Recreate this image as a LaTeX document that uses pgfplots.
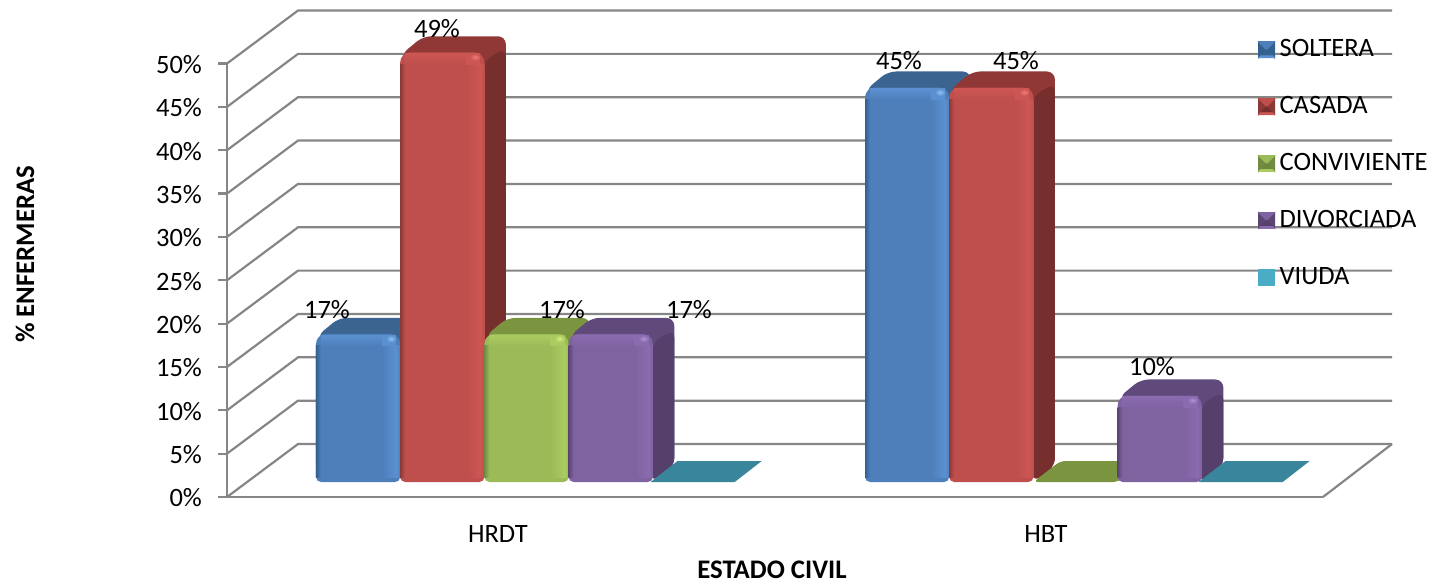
\documentclass[border=0pt]{standalone}
\usepackage{fontspec}
\setmainfont{Carlito}
\usepackage{pgfplots}
\pgfplotsset{compat=1.18}

% Front, bevel, top and side tones of each series
\definecolor{blueFront}{HTML}{4E7FBB}
\definecolor{blueLight}{HTML}{5A90D0}
\definecolor{blueHigh}{HTML}{8FC4F4}
\definecolor{blueDark}{HTML}{34608F}
\definecolor{blueTop}{HTML}{3C6491}
\definecolor{blueSide}{HTML}{396190}
\definecolor{redFront}{HTML}{BE4F4C}
\definecolor{redLight}{HTML}{CC5653}
\definecolor{redHigh}{HTML}{F07C76}
\definecolor{redDark}{HTML}{8C3A38}
\definecolor{redTop}{HTML}{8F3836}
\definecolor{redSide}{HTML}{772F2E}
\definecolor{greenFront}{HTML}{9BBB59}
\definecolor{greenLight}{HTML}{A9CB60}
\definecolor{greenHigh}{HTML}{D2F080}
\definecolor{greenDark}{HTML}{728B42}
\definecolor{greenTop}{HTML}{7A943F}
\definecolor{greenSide}{HTML}{6F8739}
\definecolor{purpleFront}{HTML}{7F63A1}
\definecolor{purpleLight}{HTML}{8A6BAF}
\definecolor{purpleHigh}{HTML}{B094D4}
\definecolor{purpleDark}{HTML}{5B4673}
\definecolor{purpleTop}{HTML}{604A7B}
\definecolor{purpleSide}{HTML}{54406B}
\definecolor{tealTop}{HTML}{39859C}
\definecolor{tealLegend}{HTML}{4BACC6}
\definecolor{wallGrid}{HTML}{868686}

\newcommand{\labelfont}{\fontsize{13.25}{15.9}\selectfont}
\newcommand{\titlefont}{\fontsize{13.4}{16}\selectfont\bfseries}

% One polygon in axis coordinates, its macros expanded before pgfplots stores it
\newcommand{\face}[2]{%
  \edef\facepoints{#2}%
  \begingroup\edef\x{\endgroup\noexpand\addplot[forget plot,draw=none,#1] coordinates {\facepoints} -- cycle;}\x}

% A column: left x in px, value in percent, colour prefix
\newcommand{\threedbar}[3]{%
  \pgfmathsetmacro\xL{#1}%
  \pgfmathsetmacro\xLi{#1+1}%
  \pgfmathsetmacro\xR{#1+84.2}%
  \pgfmathsetmacro\xRb{#1+84.2+21.5}%
  \pgfmathsetmacro\xLb{#1+23}%
  \pgfmathsetmacro\yT{1.557+1.015*#2}%
  \pgfmathsetmacro\yTb{\yT+1.85}%
  \pgfmathsetmacro\yTs{\yT+0.45}%
  \pgfmathsetmacro\yTr{\yT-0.9}%
  \pgfmathsetmacro\yTo{\yT-0.25}%
  \pgfmathsetmacro\yB{1.73}%
  \pgfmathsetmacro\yBb{\yB+1.85}%
  \pgfmathsetmacro\yBi{\yB+0.55}%
  \pgfmathsetmacro\yM{\yB+1}%
  \pgfmathsetmacro\yS{\yT-1.35}%
  \pgfmathsetmacro\ySp{\yT-0.95}%
  \pgfmathsetmacro\yTi{\yT-0.15}%
  \pgfmathsetmacro\xa{#1+5}%
  \pgfmathsetmacro\xb{#1+66}%
  \pgfmathsetmacro\xc{#1+80}%
  \pgfmathsetmacro\xe{#1+70}%
  \face{fill=#3Top,rounded corners=4pt}{(\xLi,\yTo) (\xLb,\yTb) (\xRb,\yTb) (\xRb,\yBb) (\xR,\yB)}%
  \face{fill=#3Side,rounded corners=4pt}{(\xR,\yB) (\xRb,\yBb) (\xRb,\yTs) (\xR,\yTr)}%
  \face{fill=#3Front,rounded corners=5pt}{(\xL,\yM) (\xR,\yM) (\xR,\yT) (\xL,\yT)}%
  \face{fill=#3Front,rounded corners=2.5pt}{(\xL,\yB) (\xR,\yB) (\xR,\yS) (\xL,\yS)}%
  \face{left color=#3Dark,right color=#3Front,shading=axis}{(\xL,\yS) (\xa,\yS) (\xa,\yBi) (\xL,\yBi)}%
  \face{left color=#3Front,right color=#3Light,shading=axis}{(\xb,\yS) (\xc,\yS) (\xc,\yBi) (\xb,\yBi)}%
  \face{left color=#3Light,right color=#3Front,shading=axis}{(\xc,\yS) (\xR,\yS) (\xR,\yBi) (\xc,\yBi)}%
  \face{top color=#3Light,bottom color=#3Front,shading=axis}{(\xa,\yTi) (\xb,\yTi) (\xb,\yS) (\xa,\yS)}%
  \face{left color=#3Light,right color=#3Light,shading=axis}{(\xb,\yTi) (\xc,\yTi) (\xc,\yS) (\xb,\yS)}%
  \face{inner color=#3High,outer color=#3Light,shading=radial}{(\xe,\yTi) (\xc,\yTi) (\xc,\ySp) (\xe,\ySp)}%
}

% A column of zero height shows only its floor
\newcommand{\flatbar}[3]{%
  \pgfmathsetmacro\xL{#1}%
  \pgfmathsetmacro\xR{#1+84.2}%
  \pgfmathsetmacro\xRb{#1+84.2+27}%
  \pgfmathsetmacro\xLb{#1+27}%
  \face{fill=#2,rounded corners=#3}{(\xL,1.73) (\xR,1.73) (\xRb,4.15) (\xLb,4.15)}%
}

% Gridline of one percent level: side wall and back wall
\newcommand{\wallline}[1]{%
  \pgfmathsetmacro\yBack{#1+6.11}%
  \begingroup\edef\x{\endgroup\noexpand\addplot[forget plot,wallGrid,line width=1.1pt] coordinates {(227,#1) (298,\yBack) (1392,\yBack)};}\x}

% Legend swatch: a small bevelled square, with room reserved before the text
\newcommand{\swatchgap}{\path[draw=none] (8pt,0pt) -- (9.5pt,0pt);}
\newcommand{\swatch}[1]{%
  \fill[#1Front] (0pt,-4pt) rectangle (8pt,4pt);
  \fill[#1Dark] (0pt,-4pt) -- (4pt,0pt) -- (0pt,4pt) -- cycle;
  \fill[#1Dark] (8pt,-4pt) -- (4pt,0pt) -- (8pt,4pt) -- cycle;
  \fill[#1Front] (0pt,4pt) -- (4pt,0pt) -- (8pt,4pt) -- cycle;
  \fill[#1Side] (1pt,-3pt) -- (4pt,0pt) -- (7pt,-3pt) -- cycle;
  \fill[#1Light] (0pt,-4pt) -- (8pt,-4pt) -- (7pt,-3pt) -- (1pt,-3pt) -- cycle;
  \swatchgap}

\begin{document}
\begin{tikzpicture}
\useasboundingbox (-113.5pt,-44.5pt) rectangle (604.5pt,248.5pt);
\begin{axis}[
  at={(0pt,0pt)}, anchor=south west,
  scale only axis, width=548pt, height=216.75pt,
  clip=false,
  xmin=227, xmax=1323, ymin=0, ymax=50,
  axis x line=bottom, axis y line=left,
  axis line style={wallGrid,line width=1.1pt,-},
  xtick={498,1046}, xticklabels={HRDT,HBT},
  xtick style={draw=none},
  ytick={0,5,10,15,20,25,30,35,40,45,50},
  yticklabels={0\%,5\%,10\%,15\%,20\%,25\%,30\%,35\%,40\%,45\%,50\%},
  ytick style={wallGrid,line width=1.1pt},
  major tick length=4.5pt,
  tick align=outside,
  yticklabel style={font=\labelfont,xshift=-4.5pt,yshift=-0.5pt},
  xticklabel style={font=\labelfont,yshift=-6pt},
  every axis x label/.style={at={(axis cs:772,-8.4)},anchor=center,font=\titlefont},
  every axis y label/.style={at={(axis cs:25,28)},anchor=center,rotate=90,font=\titlefont},
  xlabel={ESTADO CIVIL},
  ylabel={\% ENFERMERAS},
  legend style={at={(0.9405,1.0605)},anchor=north west,draw=none,fill=none,
    font=\labelfont,row sep=16.35pt,inner sep=0pt,
    nodes={inner sep=1pt},
    /tikz/every even column/.append style={column sep=0pt}},
  legend cell align=left,
]
\pgfplotsinvokeforeach{0,5,10,15,20,25,30,35,40,45,50}{\wallline{#1}}
\addplot[forget plot,wallGrid,line width=1.1pt] coordinates {(1323,0) (1392,6.11)};

% HRDT
\threedbar{316}{17}{blue}
\threedbar{400.2}{49}{red}
\threedbar{484.4}{17}{green}
\threedbar{568.6}{17}{purple}
\flatbar{650.5}{tealTop}{0pt}
% HBT
\threedbar{865}{45}{blue}
\threedbar{949.2}{45}{red}
\flatbar{1033.4}{greenTop}{2.5pt}
\threedbar{1117.6}{10}{purple}
\flatbar{1198.5}{tealTop}{0pt}

% Value labels
\node[font=\labelfont] at (axis cs:327,21.57) {17\%};
\node[font=\labelfont] at (axis cs:437,53.98) {49\%};
\node[font=\labelfont] at (axis cs:562,21.57) {17\%};
\node[font=\labelfont] at (axis cs:689,21.57) {17\%};
\node[font=\labelfont] at (axis cs:899,50.29) {45\%};
\node[font=\labelfont] at (axis cs:1016,50.29) {45\%};
\node[font=\labelfont] at (axis cs:1152,15) {10\%};

\addlegendimage{legend image code/.code={\swatch{blue}}}
\addlegendentry{SOLTERA}
\addlegendimage{legend image code/.code={\swatch{red}}}
\addlegendentry{CASADA}
\addlegendimage{legend image code/.code={\swatch{green}}}
\addlegendentry{CONVIVIENTE}
\addlegendimage{legend image code/.code={\swatch{purple}}}
\addlegendentry{DIVORCIADA}
\addlegendimage{legend image code/.code={\fill[tealLegend] (0pt,-4pt) rectangle (8pt,4pt);\swatchgap}}
\addlegendentry{VIUDA}
\end{axis}
\end{tikzpicture}
\end{document}
